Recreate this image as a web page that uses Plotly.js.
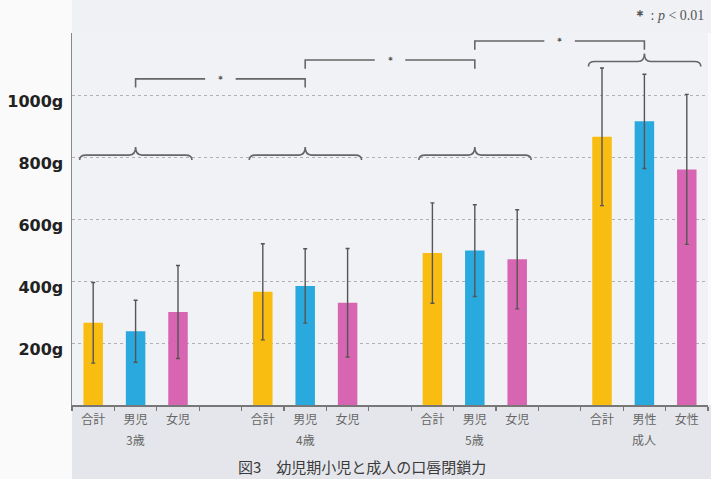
<!DOCTYPE html>
<html>
<head>
<meta charset="utf-8">
<script src="https://cdn.plot.ly/plotly-3.0.1.min.js"></script>
<style>html,body{margin:0;padding:0;background:#fafafa;}#chart{width:711px;height:479px;}</style>
</head>
<body>
<div id="chart"></div>
<script>
// ---- data ----
const groups = ['3歳', '4歳', '5歳', '成人'];
const labelsTotal = ['合計', '合計', '合計', '合計'];
const labelsMale = ['男児', '男児', '男児', '男性'];
const labelsFemale = ['女児', '女児', '女児', '女性'];
const totalMean = [265, 365, 490, 865];
const totalSD = [130, 155, 162, 222];
const maleMean = [238, 384, 498, 915];
const maleSD = [100, 120, 148, 152];
const femaleMean = [300, 330, 470, 760];
const femaleSD = [150, 175, 160, 242];
const yTicks = [0, 200, 400, 600, 800, 1000, 1200];
const yTickText = ['', '200g', '400g', '600g', '800g', '1000g', ''];
const braceLevel = [806, 806, 806, 1108];       // significance braces per group
const bracketLevel = [1052, 1113, 1174];        // brackets between neighbouring groups
const caption = '図3　幼児期小児と成人の口唇閉鎖力';
const sigNote = '<b>＊</b> : <i>p</i> < 0.01';

// ---- layout helpers ----
const slot = (g, k) => g * 4 + k;
const colors = {total: '#f9bd12', male: '#2aa9df', female: '#d865b1'};
const barW = 0.46;
const err = (arr) => ({type: 'data', array: arr, visible: true, color: '#555', thickness: 1.4, width: 2});

const mk = (k, y, sd, color, name) => ({
  type: 'bar', name: name,
  x: groups.map((_, g) => slot(g, k)), y: y, width: barW,
  marker: {color: color, line: {width: 0}},
  error_y: err(sd), hoverinfo: 'x+y'
});
const traces = [
  mk(0, totalMean, totalSD, colors.total, '合計'),
  mk(1, maleMean, maleSD, colors.male, '男'),
  mk(2, femaleMean, femaleSD, colors.female, '女')
];

const tickvals = [], ticktext = [];
groups.forEach((_, g) => {
  tickvals.push(slot(g, 0), slot(g, 1), slot(g, 2));
  ticktext.push(labelsTotal[g], labelsMale[g], labelsFemale[g]);
});

const lineC = '#666';
const shapes = [
  // grey strip below the axis
  {type: 'rect', xref: 'paper', yref: 'paper', x0: 0, x1: 1.01, y0: -0.25, y1: 0, fillcolor: '#e5e6eb', line: {width: 0}, layer: 'below'},
  // light strip above plot
  {type: 'rect', xref: 'paper', yref: 'paper', x0: 0, x1: 1.01, y0: 1, y1: 1.1, fillcolor: '#f0f1f5', line: {width: 0}, layer: 'below'}
];
// curly braces
groups.forEach((_, g) => {
  const x0 = slot(g, 0) - 0.32, x1 = slot(g, 2) + 0.33, xm = slot(g, 1);
  const yb = braceLevel[g], yp = yb + 26, ye = yb - 16, dx = 0.15;
  const path = `M ${x0},${ye} Q ${x0},${yb} ${x0 + dx},${yb} L ${xm - dx},${yb} Q ${xm},${yb} ${xm},${yp} ` +
               `Q ${xm},${yb} ${xm + dx},${yb} L ${x1 - dx},${yb} Q ${x1},${yb} ${x1},${ye}`;
  shapes.push({type: 'path', xref: 'x', yref: 'y', path: path, line: {color: lineC, width: 1.6}});
});
// brackets between groups
const annotations = [];
bracketLevel.forEach((yv, i) => {
  const xa = slot(i, 1), xb = slot(i + 1, 1), xm = (xa + xb) / 2, gap = 0.36, drop = 28;
  shapes.push({type: 'path', xref: 'x', yref: 'y',
    path: `M ${xa},${yv - drop} L ${xa},${yv} L ${xm - gap},${yv}`, line: {color: lineC, width: 1.6}});
  shapes.push({type: 'path', xref: 'x', yref: 'y',
    path: `M ${xm + gap},${yv} L ${xb},${yv} L ${xb},${yv - drop}`, line: {color: lineC, width: 1.6}});
  annotations.push({x: xm, y: yv, xref: 'x', yref: 'y', text: '＊', showarrow: false,
    font: {family: 'DejaVu Sans', size: 9, color: '#555', weight: 'bold'}, yshift: 0});
});
// group labels (second line)
groups.forEach((gname, g) => {
  annotations.push({x: slot(g, 1), y: -0.094, xref: 'x', yref: 'paper', text: gname, showarrow: false,
    font: {family: 'Noto Sans CJK JP', size: 12, color: '#666'}, yanchor: 'middle'});
});
annotations.push({x: 0.456, y: -0.164, xref: 'paper', yref: 'paper', text: caption, showarrow: false,
  font: {family: 'Noto Sans CJK JP', size: 15, color: '#3a3a3a'}, yanchor: 'middle'});
annotations.push({x: 0.997, y: 1.048, xref: 'paper', yref: 'paper', text: sigNote, showarrow: false,
  xanchor: 'right', yanchor: 'middle', font: {family: 'Liberation Serif', size: 14, color: '#555'}});

const layout = {
  width: 711, height: 479,
  margin: {l: 72, r: 3, t: 33, b: 74},
  paper_bgcolor: '#fafafa', plot_bgcolor: '#f1f2f6',
  showlegend: false, barmode: 'overlay',
  xaxis: {
    range: [-0.5, 14.5], tickvals: tickvals, ticktext: ticktext, ticks: '', ticklen: 0,
    ticklabelstandoff: 3,
    tickfont: {family: 'Noto Sans CJK JP', size: 12, color: '#666'},
    showgrid: false, zeroline: false, showline: true, linecolor: '#777', linewidth: 1.5,
    minor: {tick0: 0.5, dtick: 1, ticks: 'outside', ticklen: 4, tickcolor: '#777', tickwidth: 1.2, showgrid: false},
    fixedrange: true
  },
  yaxis: {
    range: [0, 1200], tickvals: yTicks, ticktext: yTickText, ticks: '',
    tickfont: {family: 'DejaVu Sans', size: 16, color: '#222', weight: 'bold'},
    ticklabelshift: 6, ticklabelstandoff: 4,
    showgrid: true, gridcolor: '#b0b0b6', griddash: 'dot', gridwidth: 1,
    zeroline: false, showline: true, linecolor: '#888', linewidth: 1.5,
    fixedrange: true
  },
  shapes: shapes, annotations: annotations
};
Plotly.newPlot('chart', traces, layout, {displayModeBar: false, staticPlot: true});
</script>
</body>
</html>
